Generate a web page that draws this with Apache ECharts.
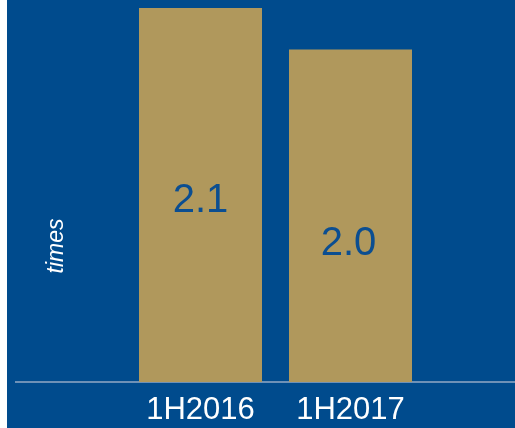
<!DOCTYPE html>
<html>
<head>
<meta charset="utf-8">
<script src="https://cdn.jsdelivr.net/npm/echarts@6/dist/echarts.min.js"></script>
<style>
  html, body { margin: 0; padding: 0; background: #ffffff; }
  #chart { position: absolute; left: 7px; top: 0; width: 508px; height: 428px; }
</style>
</head>
<body>
<div id="chart"></div>
<script>
// Interest coverage, in times
var periods = ['1H2016', '1H2017'];
var coverage = [2.1, 2.0];
var unitLabel = 'times';

var BG = '#004B8D';
var GOLD = '#B0985C';

var chart = echarts.init(document.getElementById('chart'), null, { renderer: 'canvas' });

var labelOffsets = [[0, 6], [-2, 28]];

var option = {
  backgroundColor: BG,
  animation: false,
  grid: { left: 118.5, right: 89.5, top: 8, bottom: 46, containLabel: false },
  xAxis: {
    type: 'category',
    data: periods,
    axisLine: { show: false },
    axisTick: { show: false },
    axisLabel: {
      color: '#ffffff',
      fontFamily: 'Liberation Sans, Arial, sans-serif',
      fontSize: 31,
      margin: 13
    }
  },
  yAxis: {
    type: 'value',
    min: 1.2,
    max: 2.1,
    show: false
  },
  series: [{
    type: 'bar',
    barWidth: 123,
    itemStyle: { color: GOLD },
    data: coverage.map(function (v, i) {
      return {
        value: v,
        label: {
          show: true,
          position: 'inside',
          offset: labelOffsets[i],
          formatter: function (p) { return p.value.toFixed(1); },
          color: '#0B4E91',
          fontFamily: 'Liberation Sans, Arial, sans-serif',
          fontSize: 40
        }
      };
    })
  }]
};
chart.setOption(option);

// Baseline across the panel at the value-axis minimum, plus the unit caption
var baseY = chart.convertToPixel({ yAxisIndex: 0 }, 1.2);
chart.setOption({
  graphic: [
    {
      type: 'line',
      shape: { x1: 8, y1: baseY, x2: 508, y2: baseY },
      style: { stroke: '#93A9C6', lineWidth: 1.5 },
      silent: true
    },
    {
      type: 'text',
      x: 50,
      y: 246,
      rotation: Math.PI / 2,
      style: {
        text: unitLabel,
        fill: '#ffffff',
        font: 'italic 23px Liberation Sans, Arial, sans-serif',
        textAlign: 'center',
        textVerticalAlign: 'middle'
      },
      silent: true
    }
  ]
});
</script>
</body>
</html>
